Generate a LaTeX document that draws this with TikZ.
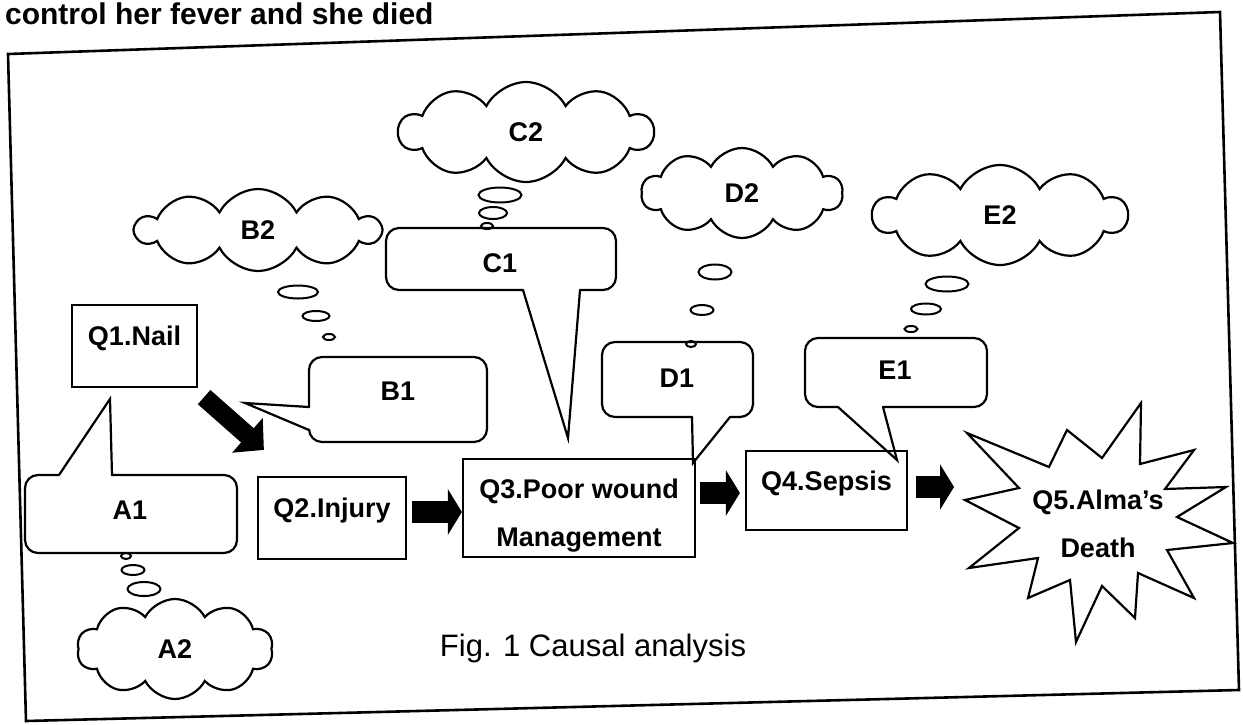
\documentclass[tikz,border=0pt]{standalone}
\usepackage{fontspec}
\setmainfont{Liberation Sans}
\usetikzlibrary{shapes.symbols}
\usetikzlibrary{arrows.meta}
\usetikzlibrary{calc}

\begin{document}
\begin{tikzpicture}[x=1pt,y=-1pt,line width=2.2pt,
  qbox/.style={draw,inner sep=0pt,font=\fontsize{27}{32}\selectfont\bfseries,text height=19pt,text depth=20pt},
  lbl/.style={inner sep=0pt,font=\fontsize{27}{32}\selectfont\bfseries},
  thought/.style={cloud,draw,cloud puffs=10,cloud puff arc=125,cloud ignores aspect,inner sep=0pt,font=\fontsize{27}{32}\selectfont\bfseries},
  talk/.style={rounded corners=13pt,line cap=round},
  fatarrow/.style={line width=22pt,-{Triangle[length=14pt,width=45pt]}}]
  \useasboundingbox (0,0) rectangle (1243,724);
  \clip (0,0) rectangle (1243,724);

  % frame and the line above it
  \draw[line width=2.6pt] (8,54) -- (1220,12) -- (1239,690) -- (26,721) -- cycle;
  \node[anchor=base west,inner sep=0pt,font=\fontsize{30}{36}\selectfont\bfseries] (head) at (4,24) {control her fever and she died};

  % chain of causes
  \node[qbox,minimum width=125pt,minimum height=82pt] (q1) at (134.5,346) {Q1.Nail};
  \node[qbox,minimum width=148pt,minimum height=82pt] (q2) at (332,518) {Q2.Injury};
  \node[qbox,minimum width=232pt,minimum height=98pt,align=center,font=\fontsize{27}{48}\selectfont\bfseries,text height=87pt,text depth=9.7pt] (q3) at (579,508) {Q3.Poor wound\\Management};
  \node[qbox,minimum width=161pt,minimum height=79pt] (q4) at (826.5,490.5) {Q4.Sepsis};
  \node[lbl,align=center,font=\fontsize{27}{48}\selectfont\bfseries] (q5) at (1098,524) {Q5.Alma's\\Death};
  \draw (967,433) -- (1049,467) -- (1067,430) -- (1102,458) -- (1141,403) -- (1140,464)
    -- (1194,450) -- (1165,489) -- (1226,487) -- (1177,517) -- (1233,543) -- (1167,550)
    -- (1194,598) -- (1138,573) -- (1135,618) -- (1102,586) -- (1076,642) -- (1070,580)
    -- (1028,598) -- (1038,558) -- (969,568) -- (1019,528) -- (965,500) -- (1019,488) -- cycle;
  \coordinate (q5w) at (954,487);

  \draw[line width=19pt,-{Triangle[length=22pt,width=45pt]}] ($(q1.south east)+(6,9)$) -- ($(q2.north west)+(7,-26)$);
  \draw[fatarrow] ($(q2.east)+(5,-6)$) -- ($(q3.west)+(0,4)$);
  \draw[fatarrow] ($(q3.east)+(4,-15)$) -- ($(q4.west)+(-5,2.5)$);
  \draw[fatarrow] ($(q4.east)+(8,-3.5)$) -- (q5w);

  % speech bubbles
  \draw[talk] (112,475) -- (237,475) -- (237,553) -- (25,553) -- (25,475) -- (59,475);
  \draw[line cap=round] (59,475) -- (110,399) -- (112,475);
  \node[lbl] (a1) at (130,510) {A1};

  \draw[talk] (309,430) -- (309,442) -- (487,442) -- (487,357) -- (309,357) -- (309,407);
  \draw[line cap=round] (309,407) -- (245,403) -- (309,430);
  \node[lbl] (b1) at (398,391) {B1};

  \draw[talk] (523,290) -- (386,290) -- (386,228) -- (616,228) -- (616,290) -- (580,290);
  \draw[line cap=round] (580,290) -- (568,438) -- (523,290);
  \node[lbl] (c1) at (500,263) {C1};

  \draw[talk] (692,417) -- (602,417) -- (602,342) -- (753,342) -- (753,417) -- (730,417);
  \draw[line cap=round] (730,417) -- (693,463) -- (692,417);
  \node[lbl] (d1) at (677,378) {D1};

  \draw[talk] (838,407) -- (805,407) -- (805,338) -- (987,338) -- (987,407) -- (883,407);
  \draw[line cap=round] (883,407) -- (897,460) -- (838,407);
  \node[lbl] (e1) at (895,370) {E1};

  % thought bubbles
  \draw[line width=2pt] (126,556) ellipse (5 and 3);
  \draw[line width=2pt] (133,570) ellipse (11.5 and 5);
  \draw[line width=2pt] (144,589) ellipse (16.5 and 7);
  \node[thought,minimum width=196pt,minimum height=100pt] (a2) at (175,649) {A2};

  \draw[line width=2pt] (329,337) ellipse (6 and 3);
  \draw[line width=2pt] (316,316) ellipse (13.5 and 5);
  \draw[line width=2pt] (298,292) ellipse (20 and 6.5);
  \node[thought,minimum width=244pt,minimum height=82pt] (b2) at (258,230) {B2};

  \draw[line width=2pt] (487,226) ellipse (6 and 3);
  \draw[line width=2pt] (493,213) ellipse (14 and 6);
  \draw[line width=2pt] (500,195) ellipse (21.5 and 7.5);
  \node[thought,minimum width=254pt,minimum height=100pt] (c2) at (526,132) {C2};

  \draw[line width=2pt] (691,344) ellipse (5 and 3);
  \draw[line width=2pt] (702,310) ellipse (11.5 and 5);
  \draw[line width=2pt] (715,272) ellipse (16.5 and 7.5);
  \node[thought,minimum width=201pt,minimum height=90pt] (d2) at (742,193) {D2};

  \draw[line width=2pt] (911,329) ellipse (6.5 and 3);
  \draw[line width=2pt] (926,309) ellipse (15 and 5.5);
  \draw[line width=2pt] (947,284) ellipse (21.5 and 7.5);
  \node[thought,minimum width=254pt,minimum height=100pt] (e2) at (1000,215) {E2};

  \node[inner sep=0pt,font=\fontsize{31}{36}\selectfont] (cap) at (593,648) {Fig. 1 Causal analysis};
\end{tikzpicture}
\end{document}
